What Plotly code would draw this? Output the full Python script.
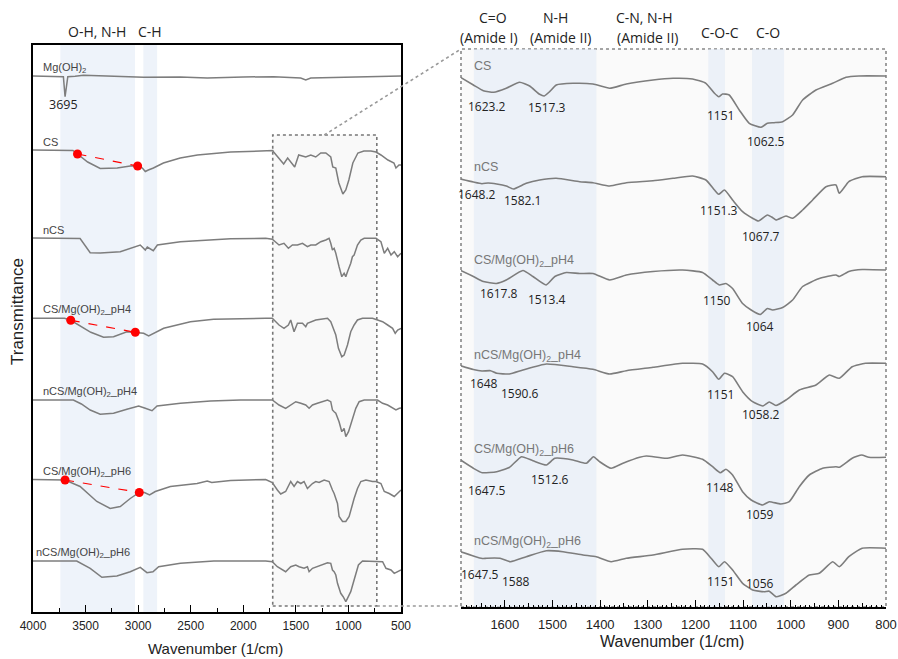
import numpy as np
import plotly.graph_objects as go

W, H = 898, 659

# ---------------- full-range spectra, 4000-500 1/cm ----------------
# each sample: wavenumbers and absorption depth below its own baseline (a.u.)
mg_wn = [4000, 3760, 3711, 3695, 3669, 3600, 3520, 3300, 2948, 2600, 2343, 2000, 1711, 1454, 1406, 1358, 1000, 818, 595, 500]
mg_d = [0, 0, 0.7, 20.7, 0.7, 0.2, -0.7, 0, 1.3, 1, 2, 1, 0.7, 2, 4, 2, 1, 0.7, 0, 0]

cs_wn = [4000, 3700, 3620, 3577, 3480, 3361, 3199, 3075, 3005, 2960, 2932, 2903, 2855, 2760, 2600, 2436, 2121, 1835, 1720,
         1711, 1616, 1578, 1511, 1473, 1406, 1358, 1311, 1263, 1215, 1168, 1149, 1120, 1091, 1053, 1025, 996, 958, 910,
         853, 786, 738, 691, 624, 567, 548, 519, 500]
cs_d = [0, 0, 0.5, 4, 12, 18.5, 18, 16, 16, 18, 21.5, 20, 18, 13, 8, 5, 2, 1, 0.5,
        2, 14, 8, 17, 5, 7, 5, 7, 3, 3, 7, 17, 18, 33, 44, 40, 30, 13, 3,
        1, 1, 2, 5, 10, 13, 18, 15, 15]

ncs_wn = [4000, 3600, 3552, 3456, 3361, 3170, 3075, 2980, 2932, 2913, 2856, 2817, 2598, 2121, 1787, 1724, 1660, 1613,
          1571, 1533, 1485, 1437, 1390, 1358, 1311, 1263, 1215, 1184, 1168, 1152, 1136, 1120, 1089, 1063, 1041, 1025,
          1009, 978, 962, 946, 914, 882, 850, 786, 738, 691, 659, 627, 595, 564, 532, 500]
ncs_d = [0, 0, 0.5, 14.7, 15, 13.7, 10, 7, 12, 9, 12.7, 7, 3.7, 0.7, 0.3, 1.3, 7, 5.3,
         10.3, 7, 7, 5.3, 8.7, 7, 7, 3.7, 2, 0.3, 5.3, 12, 10.3, 15.3, 28.7, 38.7, 35.3, 38.7,
         33.7, 25.3, 18.7, 17, 7, 2, 0.3, 0.3, 0.3, 3.7, 15.3, 10.3, 17, 13.7, 18.7, 15.3]

cs4_wn = [4000, 3700, 3641, 3560, 3450, 3329, 3234, 3107, 3027, 2948, 2900, 2852, 2757, 2503, 2283, 1787, 1724, 1660,
          1613, 1571, 1549, 1517, 1485, 1437, 1406, 1390, 1358, 1311, 1247, 1199, 1168, 1136, 1120, 1095, 1063, 1041,
          1009, 978, 946, 914, 866, 771, 723, 675, 627, 580, 555, 532, 500]
cs4_d = [0, 0, 2, 7, 14, 19, 18.4, 13.4, 14, 15, 17.7, 15, 10, 3.4, 1, 0, 0, 6.7,
         10, 6.7, 1.7, 13.4, 5, 5, 8.4, 5, 3.4, 1.7, 0.7, 0, 3.4, 13.4, 16.7, 30, 38.4, 36.7,
         26.7, 13.4, 6.7, 1.7, 0, 0, 1.7, 3.4, 6.7, 10, 15, 11.7, 10]

ncs4_wn = [4000, 3616, 3540, 3456, 3361, 3234, 3107, 2995, 2932, 2868, 2820, 2598, 2312, 2026, 1724, 1660, 1597, 1549,
           1501, 1453, 1406, 1374, 1342, 1295, 1247, 1199, 1168, 1152, 1136, 1120, 1089, 1063, 1041, 1025, 999, 978,
           955, 930, 898, 850, 723, 675, 627, 580, 548, 516, 500]
ncs4_d = [0, 0, 4, 10, 14.3, 13.3, 9.3, 6, 8.3, 10.7, 6, 3.3, 1, 0, 0, 5, 8.3, 5,
          1.7, 3.3, 5, 8.3, 5, 3.3, 1.7, 0, 1.7, 10, 11.7, 13.3, 21.7, 31.7, 28.3, 36.7, 31.7, 25,
          18.3, 8.3, 1.7, 0, 0, 3.3, 5, 8.3, 10, 8.3, 8]

cs6_wn = [4000, 3760, 3695, 3552, 3393, 3266, 3170, 3075, 2989, 2940, 2891, 2837, 2693, 2439, 2343, 2300, 2121, 1787,
          1724, 1676, 1644, 1597, 1565, 1549, 1517, 1485, 1453, 1422, 1390, 1374, 1342, 1311, 1279, 1231, 1184, 1152,
          1136, 1104, 1089, 1056, 1025, 993, 968, 946, 914, 882, 834, 771, 738, 691, 659, 612, 564, 532, 500]
cs6_d = [0, 0, 0.5, 7, 22, 29, 27, 19, 13, 13, 15.5, 12, 7, 4, 1.5, 3, 1, 0,
         3, 10.5, 14.5, 12, 5.5, 2, 7, 2, 4, 2, 9, 7, 4, 2, 3, 0.5, 2, 10.5,
         14, 24, 37, 42, 42, 37, 27, 19, 9, 2, 0.5, 2, 2, 4, 12, 14, 17, 14, 10.5]

ncs6_wn = [4000, 3584, 3456, 3345, 3202, 3075, 2980, 2916, 2859, 2805, 2598, 2280, 1787, 1724, 1676, 1628, 1597, 1549,
           1501, 1469, 1422, 1390, 1374, 1342, 1295, 1247, 1199, 1168, 1152, 1136, 1120, 1104, 1073, 1050, 1025, 1009,
           978, 955, 930, 905, 866, 771, 675, 643, 595, 564, 532, 500]
ncs6_d = [0, 0, 7.3, 16.3, 15, 10.7, 6.3, 11.7, 10.7, 5.7, 2.3, 0, 0, 0.7, 5.7, 9, 10.7, 5.7,
          4, 5.7, 7.3, 5.7, 10.7, 7.3, 5.7, 4, 1.7, 2.3, 9, 10.7, 14, 22.3, 32.3, 35.7, 40.7, 37.3,
          30.7, 22.3, 12.3, 4, 0, 0, 0.7, 7.3, 9, 12.3, 10.7, 9]

full_labels = ["Mg(OH)<sub>2</sub>", "CS", "nCS", "CS/Mg(OH)<sub>2</sub>_pH4", "nCS/Mg(OH)<sub>2</sub>_pH4",
               "CS/Mg(OH)<sub>2</sub>_pH6", "nCS/Mg(OH)<sub>2</sub>_pH6"]
full_offsets = [536, 462, 374, 293.7, 212, 132.5, 51]
full_wns = [mg_wn, cs_wn, ncs_wn, cs4_wn, ncs4_wn, cs6_wn, ncs6_wn]
full_depths = [mg_d, cs_d, ncs_d, cs4_d, ncs4_d, cs6_d, ncs6_d]

# O-H stretching baseline end points (index into the samples above)
oh_marks = {1: [3577, 3005], 3: [3641, 3027], 5: [3695, 2989]}
mg_peak = 3695

# ---------------- fingerprint region, 1692-800 1/cm ----------------
zcs_wn = [1693, 1666, 1645, 1623.2, 1597, 1569, 1548, 1527, 1517.3, 1506, 1492, 1457, 1415, 1380, 1345, 1289, 1247,
          1206, 1178, 1160, 1151, 1143, 1129, 1108, 1087, 1062.5, 1049, 1035, 1017, 996, 975, 947, 912, 884, 857, 800]
zcs_d = [1.3, 9, 14.7, 16.3, 12.3, 6.3, 10, 18.3, 20, 15.7, 9, 7.3, 8, 12.3, 8, 4, 2.3,
         3, 7.3, 17.3, 20.7, 18, 19, 34, 47.3, 51.3, 47.3, 46.7, 45.7, 39, 24, 14, 7.3, 1.3, 0, 0]

zncs_wn = [1693, 1666, 1648.2, 1635, 1617, 1597, 1582.1, 1555, 1527, 1492, 1443, 1415, 1380, 1345, 1289, 1247, 1206,
           1178, 1160, 1151.3, 1139, 1122, 1101, 1080, 1067.7, 1049, 1040, 1031, 1010, 996, 975, 954, 926, 905, 898,
           878, 850, 800]
zncs_d = [2, 5, 6.7, 6, 7, 9, 12, 6.3, 3, 1.3, 4.7, 5.7, 9, 5.7, 3.7, 1.3, -1,
          3, 13, 17.3, 13, 23, 34.7, 41.3, 44, 38, 40, 43, 39, 41.3, 33, 23, 9.7, 8, 16.3,
          4.7, -0.3, -0.3]

zcs4_wn = [1693, 1666, 1645, 1617.8, 1597, 1562, 1541, 1513.4, 1495, 1471, 1443, 1415, 1380, 1345, 1289, 1227, 1185,
           1164, 1150, 1136, 1122, 1101, 1083, 1064, 1049, 1038, 1017, 996, 975, 940, 905, 898, 878, 850, 800]
zcs4_d = [0, 6, 11, 13, 9.5, 0, 6, 14.5, 6, 2, 3, 3, 9.5, 4.5, 1, -0.5, 2,
          9.5, 14.5, 13, 18, 33, 39.5, 44, 38, 39.5, 37, 29.5, 16, 8, 4.5, 6, 1, -1, -0.5]

zncs4_wn = [1693, 1666, 1648, 1630, 1617, 1590.6, 1562, 1513, 1457, 1415, 1380, 1345, 1289, 1227, 1185, 1164, 1151,
            1139, 1122, 1101, 1080, 1058.2, 1045, 1031, 1010, 982, 947, 919, 898, 871, 843, 800]
zncs4_d = [0.2, 4, 5.5, 5.2, 7.8, 8.5, 4.5, -1.5, 1.2, 3.8, 8.5, 5.2, 1.8, -2.2, -1.5, 6.2, 13.8,
           7.8, 11.2, 26.2, 36.2, 40.5, 36.5, 40, 34.5, 24.5, 19.5, 9.5, 12.8, 1.2, -2.2, -2.2]

zcs6_wn = [1693, 1666, 1647.5, 1617, 1590, 1565, 1541, 1512.6, 1495, 1457, 1429, 1414, 1401, 1377, 1352, 1317, 1303,
           1261, 1227, 1185, 1164, 1148, 1136, 1122, 1101, 1083, 1059, 1045, 1021, 1003, 982, 961, 933, 905, 898, 871,
           851, 836, 800]
zcs6_d = [0, 8.3, 12.7, 11.7, 7.3, -3.3, 0.7, 5, -1.7, 0, 3.3, -3.3, 1.7, 8.3, 3.3, -2.7, -4,
          -1.7, -5, -0.7, 6.7, 12.7, 9.3, 15, 31.7, 40, 45, 41.7, 44, 41.7, 26.7, 15, 8.3, 6.7, 7.3, -1.7,
          -5, -2.7, -2.7]

zncs6_wn = [1693, 1666, 1647.5, 1638, 1610, 1588, 1555, 1513, 1478, 1436, 1408, 1377, 1345, 1289, 1227, 1185, 1167,
            1151, 1139, 1122, 1101, 1080, 1056, 1045, 1031, 1010, 989, 961, 940, 912, 898, 878, 850, 800]
zncs6_d = [0, 4.3, 6.8, 6.5, 6.6, 10, 5, -1, 0, 3.3, 5, 10, 6.6, 3.3, -2.4, -2.4, 6.6,
           15, 10, 18.3, 31.6, 38.3, 40, 39.5, 45, 41.6, 33.3, 23.3, 21.6, 10, 15, 5, -3.4, -3.4]

zoom_labels = full_labels[1:]
zoom_offsets = [531, 430, 336.5, 241.5, 147, 55.3]
zoom_wns = [zcs_wn, zncs_wn, zcs4_wn, zncs4_wn, zcs6_wn, zncs6_wn]
zoom_depths = [zcs_d, zncs_d, zcs4_d, zncs4_d, zcs6_d, zncs6_d]

# assigned band positions per sample and where their numbers sit (wavenumber, depth)
zoom_peaks = [[1623.2, 1517.3, 1151, 1062.5],
              [1648.2, 1582.1, 1151.3, 1067.7],
              [1617.8, 1513.4, 1150, 1064],
              [1648, 1590.6, 1151, 1058.2],
              [1647.5, 1512.6, 1148, 1059],
              [1647.5, 1588, 1151, 1056]]
peak_text_wn = [[1638, 1512, 1148, 1052],
                [1659, 1562, 1151, 1062],
                [1612, 1511, 1155, 1065],
                [1644, 1569, 1148, 1062],
                [1638, 1506, 1148, 1065],
                [1652, 1577, 1148, 1065]]
peak_text_d = [[30.7, 31, 39, 65],
               [17, 23, 33, 59.7],
               [22.8, 28.5, 30.2, 55.5],
               [17.8, 27.8, 28.5, 48.5],
               [30, 19.3, 27.3, 54],
               [22.3, 30, 30, 31.6]]

# highlighted bands
full_bands = [(3740, 3030), (2950, 2820)]
zoom_bands = [(1665, 1408), (1173, 1138), (1081, 1014)]
zoom_box = (1720, 730)

# ---------------- layout geometry ----------------
LX = [33 / W, 401 / W]
LY = [1 - 612 / H, 1 - 45 / H]
RX = [461 / W, 886 / W]
RY = [1 - 607 / H, 1 - 49 / H]
L_RANGE_X = [4000, 500]
L_RANGE_Y = [0, 567]
R_RANGE_X = [1692, 800]
R_RANGE_Y = [0, 558]


def pp(x, y):
    return x / W, 1 - y / H


def left_to_paper(wn, yv):
    fx = (L_RANGE_X[0] - wn) / (L_RANGE_X[0] - L_RANGE_X[1])
    fy = (yv - L_RANGE_Y[0]) / (L_RANGE_Y[1] - L_RANGE_Y[0])
    return LX[0] + fx * (LX[1] - LX[0]), LY[0] + fy * (LY[1] - LY[0])


LINE_COL = "rgb(125,125,125)"
BAND_COL = "rgba(222,232,246,0.5)"
fig = go.Figure()

for lab, off, wn, d in zip(full_labels, full_offsets, full_wns, full_depths):
    fig.add_trace(go.Scatter(x=wn, y=off - np.array(d), mode="lines",
                             line=dict(color=LINE_COL, width=1.5), xaxis="x", yaxis="y",
                             showlegend=False, hoverinfo="skip"))

for idx, pts in oh_marks.items():
    wn = np.array(full_wns[idx][::-1], dtype=float)
    yy = full_offsets[idx] - np.array(full_depths[idx][::-1], dtype=float)
    my = np.interp(pts, wn, yy)
    fig.add_trace(go.Scatter(x=pts, y=my, mode="lines+markers",
                             line=dict(color="red", width=1.2, dash="dash"),
                             marker=dict(color="red", size=9), xaxis="x", yaxis="y",
                             showlegend=False, hoverinfo="skip"))

for lab, off, wn, d in zip(zoom_labels, zoom_offsets, zoom_wns, zoom_depths):
    fig.add_trace(go.Scatter(x=wn, y=off - np.array(d), mode="lines",
                             line=dict(color=LINE_COL, width=1.6, shape="spline", smoothing=0.5),
                             xaxis="x2", yaxis="y2", showlegend=False, hoverinfo="skip"))

# carrier trace for the fine tick axis
fig.add_trace(go.Scatter(x=R_RANGE_X, y=[1, 1], mode="lines", opacity=0, xaxis="x3", yaxis="y2",
                         showlegend=False, hoverinfo="skip"))

shapes = []
for a, b in full_bands:
    shapes.append(dict(type="rect", xref="x", yref="y domain", x0=a, x1=b, y0=0, y1=1,
                       fillcolor=BAND_COL, line=dict(width=0), layer="below"))
shapes.append(dict(type="rect", xref="x", yref="y", x0=zoom_box[0], x1=zoom_box[1], y0=6, y1=477,
                   fillcolor="#f9f9f9", line=dict(color="#777", width=1.6, dash="dot"), layer="below"))
shapes.append(dict(type="rect", xref="x2 domain", yref="y2 domain", x0=0, x1=1, y0=0, y1=1,
                   fillcolor="#fafafa", line=dict(color="#888", width=1.6, dash="dot"), layer="below"))
for a, b in zoom_bands:
    shapes.append(dict(type="rect", xref="x2", yref="y2 domain", x0=a, x1=b, y0=0, y1=1,
                       fillcolor=BAND_COL, line=dict(width=0), layer="below"))

# zoom connectors
p0 = left_to_paper(1230, 477)
shapes.append(dict(type="line", xref="paper", yref="paper", x0=p0[0], y0=p0[1], x1=RX[0], y1=RY[1],
                   line=dict(color="#999", width=1.6, dash="dot")))
p1 = left_to_paper(zoom_box[1], 6)
shapes.append(dict(type="line", xref="paper", yref="paper", x0=p1[0], y0=p1[1], x1=RX[0], y1=p1[1],
                   line=dict(color="#999", width=1.6, dash="dot")))

ann = []
TXT = "#222"
label_wn = [3925, 3925, 3925, 3925, 3925, 3925, 3990]
for lab, off, lx in zip(full_labels, full_offsets, label_wn):
    ann.append(dict(x=lx, y=off + 8, xref="x", yref="y", text=lab, showarrow=False, xanchor="left",
                    yanchor="middle", font=dict(family="Liberation Sans", size=11, color="#444")))
ann.append(dict(x=3711, y=full_offsets[0] - 28.3, xref="x", yref="y", text=f"{mg_peak}", showarrow=False,
                xanchor="center", yanchor="middle", font=dict(family="Open Sans", size=12.5, color=TXT)))

for lab, off in zip(zoom_labels, zoom_offsets):
    ann.append(dict(x=1669, y=off + 10, xref="x2", yref="y2", text=lab, showarrow=False, xanchor="left",
                    yanchor="middle", font=dict(family="Liberation Sans", size=12.5, color="#777")))
for off, pk, tx, td in zip(zoom_offsets, zoom_peaks, peak_text_wn, peak_text_d):
    for v, x, d in zip(pk, tx, td):
        ann.append(dict(x=x, y=off - d, xref="x2", yref="y2", text=f"{v:g}", showarrow=False,
                        xanchor="center", yanchor="middle",
                        font=dict(family="Open Sans", size=12, color=TXT)))

top_text = [("O-H, N-H", 97, 32), ("C-H", 150, 32),
            ("C=O", 493, 18), ("(Amide I)", 489, 37), ("N-H", 555, 18), ("(Amide II)", 561, 37),
            ("C-N, N-H", 644, 18), ("(Amide II)", 648, 37), ("C-O-C", 720, 33), ("C-O", 768, 33)]
for t, x, y in top_text:
    px_, py_ = pp(x, y)
    ann.append(dict(x=px_, y=py_, xref="paper", yref="paper", text=t, showarrow=False,
                    xanchor="center", yanchor="middle",
                    font=dict(family="Open Sans", size=14, color=TXT)))

for t, x, y, s in [("Wavenumber (1/cm)", 215, 648, 15), ("Wavenumber (1/cm)", 672, 641, 16)]:
    px_, py_ = pp(x, y)
    ann.append(dict(x=px_, y=py_, xref="paper", yref="paper", text=t, showarrow=False,
                    xanchor="center", yanchor="middle",
                    font=dict(family="Liberation Sans", size=s, color=TXT)))
px_, py_ = pp(18, 312)
ann.append(dict(x=px_, y=py_, xref="paper", yref="paper", text="Transmittance", showarrow=False,
                xanchor="center", yanchor="middle",
                textangle=-90, font=dict(family="Liberation Sans", size=17, color=TXT)))

fig.update_layout(
    width=W, height=H, margin=dict(l=0, r=0, t=0, b=0, autoexpand=False),
    paper_bgcolor="white", plot_bgcolor="white", showlegend=False,
    shapes=shapes, annotations=ann,
    xaxis=dict(domain=LX, range=L_RANGE_X, anchor="y", showgrid=False, zeroline=False,
               showline=True, mirror=True, linecolor="black", linewidth=1.5,
               tickmode="array", tickvals=list(range(4000, 499, -500)),
               ticks="inside", ticklen=7, tickwidth=1.3, tickcolor="black", ticklabelstandoff=2,
               tickfont=dict(family="Liberation Sans", size=12, color=TXT),
               minor=dict(tickmode="linear", tick0=250, dtick=500, ticks="inside", ticklen=4,
                          tickcolor="black", tickwidth=1.2, showgrid=False)),
    yaxis=dict(domain=LY, range=L_RANGE_Y, anchor="x", showgrid=False, zeroline=False,
               showline=True, mirror=True, linecolor="black", linewidth=1.5,
               showticklabels=False, ticks=""),
    xaxis2=dict(domain=RX, range=R_RANGE_X, anchor="y2", showgrid=False, zeroline=False,
                showline=True, linecolor="black", linewidth=1.5,
                tickmode="array", tickvals=list(range(1600, 799, -100)),
                ticks="inside", ticklen=7, tickwidth=1.3, tickcolor="black", ticklabelstandoff=5,
                tickfont=dict(family="Liberation Sans", size=13, color=TXT),
                minor=dict(tickmode="linear", tick0=850, dtick=100, ticks="inside", ticklen=4,
                           tickcolor="black", tickwidth=1.2, showgrid=False)),
    xaxis3=dict(overlaying="x2", anchor="y2", range=R_RANGE_X, side="bottom", showgrid=False,
                zeroline=False, showline=False, showticklabels=False,
                tickmode="linear", tick0=800, dtick=10, ticks="inside", ticklen=2.5,
                tickcolor="black", tickwidth=1),
    yaxis2=dict(domain=RY, range=R_RANGE_Y, anchor="x2", showgrid=False, zeroline=False,
                showline=False, showticklabels=False, ticks=""),
)

fig.write_html("out.html")
